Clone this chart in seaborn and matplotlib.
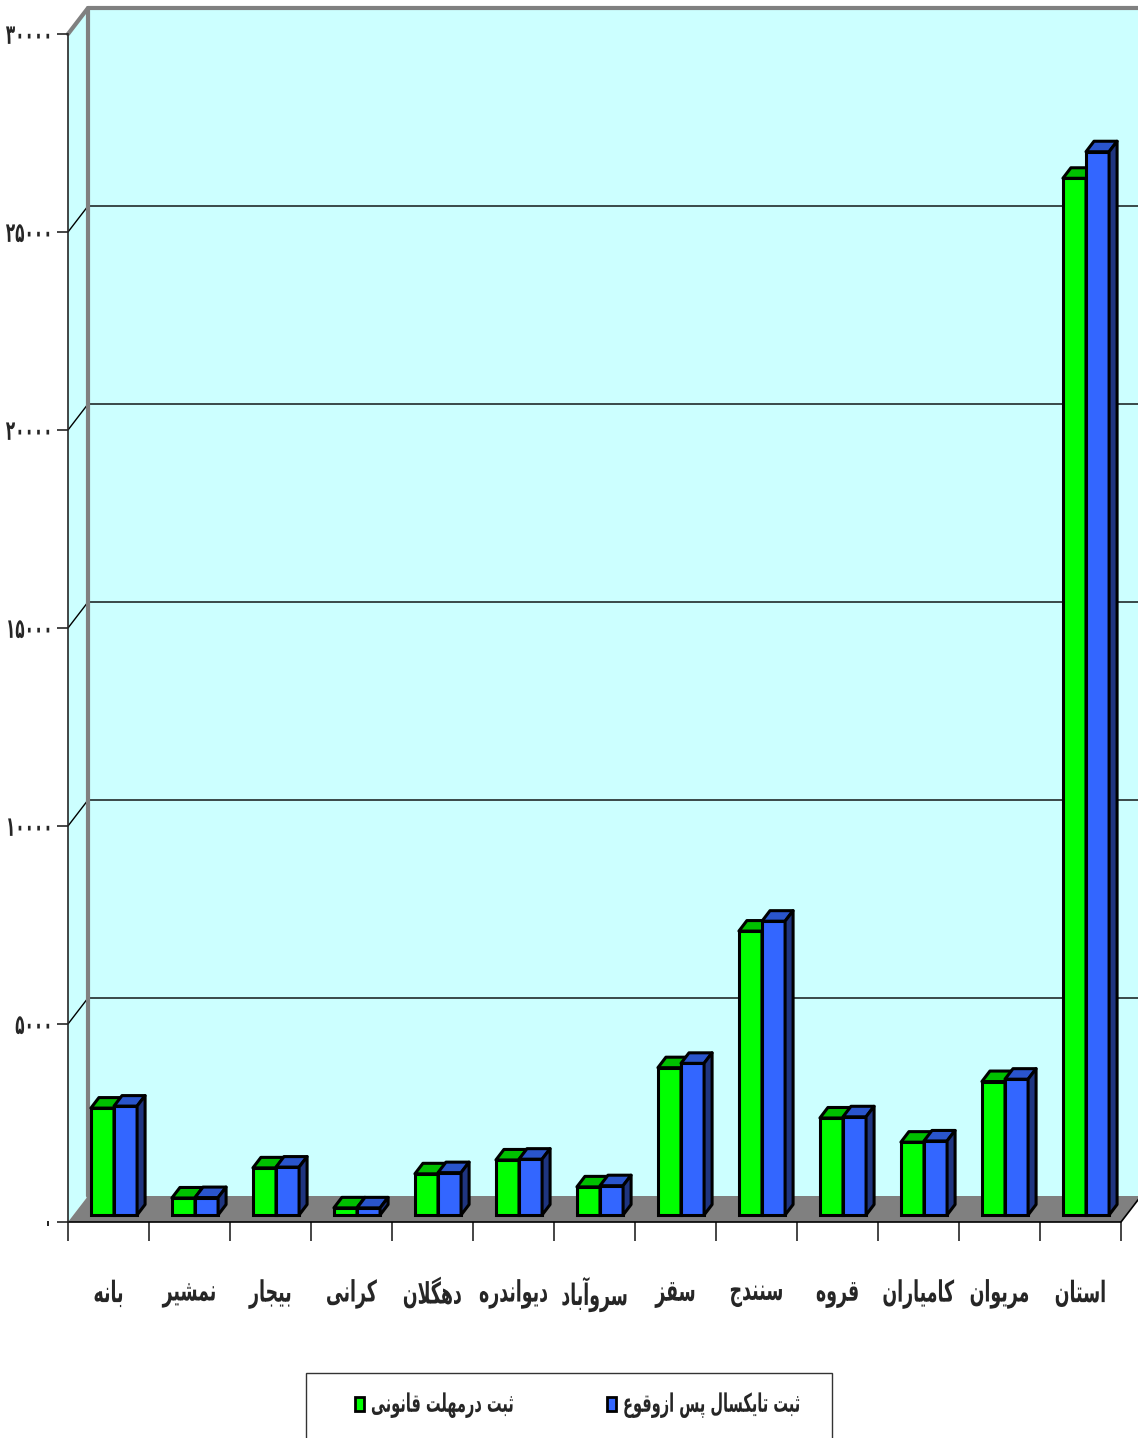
import pandas as pd
import seaborn as sns
import matplotlib.pyplot as plt
from matplotlib.patches import Polygon, Rectangle
from matplotlib.patheffects import AbstractPathEffect
from matplotlib.transforms import ScaledTranslation, IdentityTransform, Affine2D
from matplotlib.lines import Line2D

cities = ['بانه', 'نمشیر', 'بیجار', 'کرانی', 'دهگلان', 'دیواندره', 'سروآباد',
          'سقز', 'سنندج', 'قروه', 'کامیاران', 'مریوان', 'استان']
on_time = [2700, 430, 1190, 180, 1040, 1390, 710, 3720, 7170, 2450, 1840, 3370, 26180]
late = [2750, 440, 1210, 180, 1070, 1410, 740, 3830, 7420, 2480, 1870, 3430, 26850]
series = ['ثبت درمهلت قانونی', 'ثبت تایکسال پس ازوقوع']
yticks = [0, 5000, 10000, 15000, 20000, 25000, 30000]

front_cols = ['#00ff00', '#3366ff']
top_cols = ['#00c000', '#2a55cc']
side_cols = ['#009900', '#1f3580']

# matplotlib does no arabic shaping, so map letters to presentation forms by hand
FORMS = {
    'آ': ('\uFE81', '\uFE82', None, None), 'ا': ('\uFE8D', '\uFE8E', None, None),
    'ب': ('\uFE8F', '\uFE90', '\uFE91', '\uFE92'), 'پ': ('\uFB56', '\uFB57', '\uFB58', '\uFB59'),
    'ت': ('\uFE95', '\uFE96', '\uFE97', '\uFE98'), 'ث': ('\uFE99', '\uFE9A', '\uFE9B', '\uFE9C'),
    'ج': ('\uFE9D', '\uFE9E', '\uFE9F', '\uFEA0'), 'د': ('\uFEA9', '\uFEAA', None, None),
    'ر': ('\uFEAD', '\uFEAE', None, None), 'ز': ('\uFEAF', '\uFEB0', None, None),
    'س': ('\uFEB1', '\uFEB2', '\uFEB3', '\uFEB4'), 'ش': ('\uFEB5', '\uFEB6', '\uFEB7', '\uFEB8'),
    'ع': ('\uFEC9', '\uFECA', '\uFECB', '\uFECC'), 'ق': ('\uFED5', '\uFED6', '\uFED7', '\uFED8'),
    'ک': ('\uFB8E', '\uFB8F', '\uFB90', '\uFB91'), 'گ': ('\uFB92', '\uFB93', '\uFB94', '\uFB95'),
    'ل': ('\uFEDD', '\uFEDE', '\uFEDF', '\uFEE0'), 'م': ('\uFEE1', '\uFEE2', '\uFEE3', '\uFEE4'),
    'ن': ('\uFEE5', '\uFEE6', '\uFEE7', '\uFEE8'), 'ه': ('\uFEE9', '\uFEEA', '\uFEEB', '\uFEEC'),
    'و': ('\uFEED', '\uFEEE', None, None), 'ی': ('\uFBFC', '\uFBFD', '\uFBFE', '\uFBFF'),
}
LAMALEF = {'ا': ('\uFEFB', '\uFEFC'), 'آ': ('\uFEF5', '\uFEF6')}


def shape(text):
    out = []
    i = 0
    n = len(text)
    while i < n:
        c = text[i]
        if c not in FORMS:
            out.append(c)
            i += 1
            continue
        prev = text[i - 1] if i > 0 else None
        join_prev = prev in FORMS and FORMS[prev][2] is not None
        if c == 'ل' and i + 1 < n and text[i + 1] in LAMALEF:
            out.append(LAMALEF[text[i + 1]][1 if join_prev else 0])
            i += 2
            continue
        nxt = text[i + 1] if i + 1 < n else None
        join_next = FORMS[c][2] is not None and nxt in FORMS
        iso, fin, ini, med = FORMS[c]
        if join_prev and join_next:
            out.append(med)
        elif join_prev:
            out.append(fin)
        elif join_next:
            out.append(ini)
        else:
            out.append(iso)
        i += 1
    return ''.join(reversed(out))


def fa_digits(v):
    return str(v).translate(str.maketrans('0123456789', '۰۱۲۳۴۵۶۷۸۹'))


class Tall(AbstractPathEffect):
    # stretch glyphs vertically, the original font is a tall narrow bold one
    def __init__(self, sy):
        super().__init__()
        self.sy = sy

    def draw_path(self, renderer, gc, tpath, affine, rgbFace=None):
        ext = tpath.get_extents(affine)
        cy = (ext.y0 + ext.y1) / 2
        aff = affine + Affine2D().translate(0, -cy).scale(1, self.sy).translate(0, cy)
        renderer.draw_path(gc, tpath, aff, rgbFace)


df = pd.DataFrame({
    'city': cities * 2,
    'value': on_time + late,
    'series': [series[0]] * len(cities) + [series[1]] * len(cities),
})

sns.set_style('white')
plt.rcParams['font.family'] = ['DejaVu Sans']
plt.rcParams['font.weight'] = 'bold'

W, H = 1138, 1438
fig = plt.figure(figsize=(W / 100, H / 100), dpi=100)
ax = fig.add_axes([68 / W, 1 - 1222 / H, 1053 / W, 1188 / H])

sns.barplot(data=df, x='city', y='value', hue='series', palette=front_cols, saturation=1,
            width=0.57, edgecolor='black', linewidth=2.2, ax=ax, legend=False)
bars = list(ax.patches)

ax.set_xlim(-0.5, len(cities) - 0.5)
ax.set_ylim(0, 30000)
ax.set_facecolor('none')
for s in ['top', 'right', 'bottom']:
    ax.spines[s].set_visible(False)
ax.spines['left'].set_linewidth(1.2)
ax.spines['left'].set_zorder(10)
ax.set_xlabel('')
ax.set_ylabel('')

ax.set_yticks(yticks)
ax.set_yticklabels([fa_digits(v) for v in yticks], fontsize=11, fontweight='bold')
ax.tick_params(axis='y', direction='out', length=8, width=1.2, pad=3, left=True)
for t in ax.get_yticklabels():
    t.set_path_effects([Tall(1.8)])

ax.set_xticks(range(len(cities)))
ax.set_xticklabels([shape(c) for c in cities], fontsize=12.5, fontweight='bold')
ax.set_xticks([i - 0.5 for i in range(len(cities) + 1)], minor=True)
ax.tick_params(axis='x', which='major', length=0, pad=45)
ax.tick_params(axis='x', which='minor', direction='out', length=14, width=1.2, bottom=True)
for t in ax.get_xticklabels():
    t.set_path_effects([Tall(1.7)])

BACK = (20, 26)
ident = IdentityTransform()


def disp(x, y, off=(0, 0)):
    px, py = ax.transData.transform((x, y))
    return (px + off[0], py + off[1])


def poly_line(pts, **kw):
    ax.add_line(Line2D([q[0] for q in pts], [q[1] for q in pts], transform=ident,
                       clip_on=False, **kw))


x0, x1 = -0.5, len(cities) - 0.5
# back wall, side wall, floor
ax.add_patch(Polygon([disp(x0, 0, BACK), disp(x1, 0, BACK), disp(x1, 30000, BACK),
                      disp(x0, 30000, BACK)], closed=True, facecolor='#ccffff',
                     edgecolor='none', transform=ident, clip_on=False, zorder=0.1))
ax.add_patch(Polygon([disp(x0, 0), disp(x0, 30000), disp(x0, 30000, BACK), disp(x0, 0, BACK)],
                     closed=True, facecolor='#ccffff', edgecolor='none', transform=ident,
                     clip_on=False, zorder=0.1))
ax.add_patch(Polygon([disp(x0, 0), disp(x1, 0), disp(x1, 0, BACK), disp(x0, 0, BACK)],
                     closed=True, facecolor='#808080', edgecolor='none', transform=ident,
                     clip_on=False, zorder=0.3))
for v in yticks[1:-1]:
    poly_line([disp(x0, v), disp(x0, v, BACK), disp(x1, v, BACK)], color='black', lw=1, zorder=0.2)
poly_line([disp(x0, 30000), disp(x0, 30000, BACK), disp(x1, 30000, BACK)],
          color='#808080', lw=3, zorder=0.25)
poly_line([disp(x0, 0, BACK), disp(x0, 30000, BACK)], color='#808080', lw=3, zorder=0.25)
poly_line([disp(x0, 0), disp(x1, 0), disp(x1, 0, BACK)], color='black', lw=1.2, zorder=9)

# 3d look for the bars: push fronts into the box, add top and side faces
shift = ScaledTranslation(5.5 / 100, 7 / 100, fig.dpi_scale_trans)
bar_tr = ax.transData + shift
DEP = (8, 10.5)
for k, bar in enumerate(bars):
    si = 0 if k < len(cities) else 1
    z = 4 + si
    bar.set_transform(bar_tr)
    bar.set_zorder(z)
    bar.set_clip_on(False)
    bx, bw, bh = bar.get_x(), bar.get_width(), bar.get_height()
    (l, b), (r, t) = bar_tr.transform([(bx, 0), (bx + bw, bh)])
    top = [(l, t), (r, t), (r + DEP[0], t + DEP[1]), (l + DEP[0], t + DEP[1])]
    side = [(r, b), (r, t), (r + DEP[0], t + DEP[1]), (r + DEP[0], b + DEP[1])]
    for pts, col in [(top, top_cols[si]), (side, side_cols[si])]:
        ax.add_patch(Polygon(pts, closed=True, facecolor=col, edgecolor='black', lw=2.2,
                             joinstyle='round', transform=ident, clip_on=False, zorder=z))

# legend
fig.patches.append(Rectangle((306 / W, -0.01), 526 / W, (1438 - 1373) / H + 0.01,
                             transform=fig.transFigure, facecolor='white',
                             edgecolor='#333333', lw=1))
handles = [Rectangle((0, 0), 1, 1, facecolor=c, edgecolor='black', lw=2) for c in front_cols]
leg = fig.legend(handles, [shape(s) for s in series], ncol=2, frameon=False,
                 loc='center', bbox_to_anchor=(578 / W, 1 - 1405 / H),
                 prop={'size': 10.5, 'weight': 'bold'}, handlelength=0.62, handleheight=1.1,
                 handletextpad=0.45, columnspacing=6.4)
for t in leg.get_texts():
    t.set_path_effects([Tall(1.75)])

fig.savefig('out.png', dpi=100)
